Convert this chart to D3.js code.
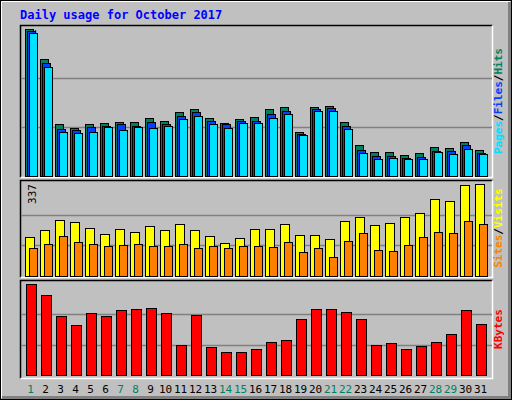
<!DOCTYPE html><html><head><script src="https://cdn.jsdelivr.net/npm/d3@7"></script>
<style>body{margin:0;background:#fff}</style></head><body><svg id="c" width="512" height="400"></svg><script>
const days=d3.range(1,32).map(String);
const weekend=["1","7","8","14","15","21","22","28","29"];
const hits=[8922,7101,3156,2913,3156,3217,3277,3277,3520,3338,3884,4066,3520,3217,3459,3581,4066,4188,2670,4188,4248,3277,1881,1457,1457,1274,1396,1760,1699,2063,1578];
const files=[8801,6858,2852,2792,2974,3034,3156,3034,3277,3156,3641,3884,3338,3156,3338,3338,3763,3945,2549,4066,4127,3034,1578,1214,1214,1092,1153,1517,1517,1881,1396];
const pages=[8679,6615,2670,2610,2670,2974,2792,2974,2913,3034,3459,3641,3156,2913,3217,3217,3520,3763,2488,3945,3945,2852,1396,1032,1092,1032,1032,1457,1335,1639,1335];
const visits=[143,168,205,198,176,154,172,161,183,168,190,168,146,121,139,172,172,190,150,150,135,201,216,187,194,216,231,282,275,333,337];
const sites=[102,117,146,124,117,110,113,117,110,110,117,102,110,102,110,110,106,124,88,102,70,128,157,95,92,113,143,161,157,201,190];
const kbytes=[131317,115440,85137,72150,89466,85137,93795,95238,96681,89466,43290,86580,40404,33189,33189,37518,47619,50505,80808,95238,95238,90909,80808,43290,46176,37518,41847,47619,59163,93795,73593];
const svg=d3.select("#c");
svg.append("rect").attr("x",0).attr("y",0).attr("width",512).attr("height",400).attr("fill","#C0C0C0");
svg.append("rect").attr("x",0.5).attr("y",0.5).attr("width",511).attr("height",399).attr("fill","none").attr("stroke","#000");
svg.append("path").attr("d","M509.5,2 V397.5 H2").attr("fill","none").attr("stroke","#808080").attr("stroke-width",3);
svg.append("path").attr("d","M1.5,398 V1.5 H510").attr("fill","none").attr("stroke","#fff");
svg.append("text").attr("x",20).attr("y",19).text("Daily usage for October 2017").attr("font-family","DejaVu Sans Mono").attr("font-weight","bold").attr("font-size",12).attr("fill","#0000FF");
const x=d3.scaleBand().domain(days).range([22,487]);
function panel(y0,y1){
  svg.append("rect").attr("x",20.5).attr("y",y0+.5).attr("width",472).attr("height",y1-y0).attr("fill","#C0C0C0");
  svg.append("path").attr("d",`M20.5,${y1+.5} V${y0+.5} H492.5`).attr("stroke","#000").attr("fill","none").attr("stroke-width",1.5);
  svg.append("path").attr("d",`M20.5,${y1+.5} H492.5 V${y0+.5}`).attr("stroke","#fff").attr("fill","none").attr("stroke-width",1.5);
}
function grid(y,top,bot,max,label){
  [1/3,2/3].forEach(f=>svg.append("line").attr("x1",21).attr("x2",492).attr("y1",Math.round(y(max*f))+.5).attr("y2",Math.round(y(max*f))+.5).attr("stroke","#808080").attr("stroke-width",1.5));
  svg.append("text").attr("transform",`translate(36,${top}) rotate(-90)`).attr("text-anchor","end").text(label).attr("font-family","DejaVu Sans Mono").attr("font-size",11).attr("fill","#000");
}
function bars(data,y,off,w,color,bot){
  svg.append("g").selectAll("rect").data(data).join("rect").attr("x",(d,i)=>x(days[i])+off+.5).attr("width",w)
   .attr("y",d=>Math.round(y(d))+.5).attr("height",d=>bot-Math.round(y(d))).attr("fill",color).attr("stroke","#000");
}
function rlabel(parts,yc){
  const t=svg.append("text").attr("transform",`translate(502,${yc}) rotate(-90)`).attr("text-anchor","middle").attr("font-family","DejaVu Sans Mono").attr("font-size",11).attr("font-weight","bold");
  parts.forEach(p=>t.append("tspan").text(p[0]).attr("fill",p[1]));
}
// top
panel(25,177);
const y1=d3.scaleLinear().domain([0,8922]).range([176,29]);
grid(y1,29,176,8922,"8922");
bars(hits,y1,3,8,"#008060",176);bars(files,y1,5,8,"#0040FF",176);bars(pages,y1,7,8,"#00E0FF",176);
rlabel([["Pages","#00E0FF"],["/","#000"],["Files","#0040FF"],["/","#000"],["Hits","#008060"]],101);
// middle
panel(180,277);
const y2=d3.scaleLinear().domain([0,337]).range([276,184]);
grid(y2,184,276,337,"337");
bars(visits,y2,3,9,"#FFFF00",276);bars(sites,y2,7,8,"#FF8000",276);
rlabel([["Sites","#FF8000"],["/","#000"],["Visits","#FFFF00"]],228);
// bottom
panel(280,378);
const y3=d3.scaleLinear().domain([0,131317]).range([375,284]);
grid(y3,284,375,131317,"131317");
bars(kbytes,y3,4,10,"#FF0000",375);
rlabel([["KBytes","#FF0000"]],329);
svg.append("g").selectAll("text").data(days).join("text").attr("x",d=>x(d)+x.bandwidth()/2+1).attr("y",393).attr("text-anchor","middle")
 .text(d=>d).attr("font-family","DejaVu Sans Mono").attr("font-size",11).attr("fill",d=>weekend.includes(d)?"#008060":"#000");
</script></body></html>
